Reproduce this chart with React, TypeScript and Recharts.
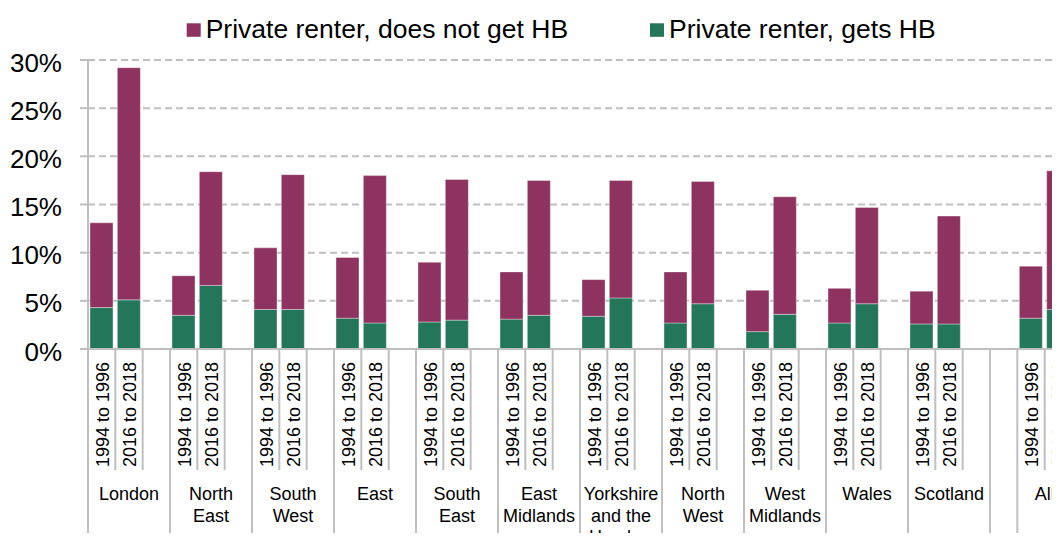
import React from "react";
import { BarChart, Bar, XAxis, YAxis, CartesianGrid, Legend } from "recharts";

// ---------- data ----------
const regions = [
  "London", "North East", "South West", "East", "South East", "East Midlands",
  "Yorkshire and the Humber", "North West", "West Midlands", "Wales", "Scotland", "", "All",
];
const regionLabelLines: string[][] = [
  ["London"], ["North", "East"], ["South", "West"], ["East"], ["South", "East"], ["East", "Midlands"],
  ["Yorkshire", "and the", "Humber"], ["North", "West"], ["West", "Midlands"], ["Wales"], ["Scotland"], [], ["All"],
];
const periods = ["1994 to 1996", "2016 to 2018"];
const hbEarly = [4.3, 3.5, 4.1, 3.2, 2.8, 3.1, 3.4, 2.7, 1.8, 2.7, 2.6, null, 3.2];
const hbLate = [5.1, 6.6, 4.1, 2.7, 3.0, 3.5, 5.3, 4.7, 3.6, 4.7, 2.6, null, 4.1];
const nonHbEarly = [8.8, 4.1, 6.4, 6.3, 6.2, 4.9, 3.8, 5.3, 4.3, 3.6, 3.4, null, 5.4];
const nonHbLate = [24.1, 11.8, 14.0, 15.3, 14.6, 14.0, 12.2, 12.7, 12.2, 10.0, 11.2, null, 14.4];
const yTicks = [0, 5, 10, 15, 20, 25, 30];

const NON_NAME = "Private renter, does not get HB";
const HB_NAME = "Private renter, gets HB";
const PURPLE = "#8E3360";
const GREEN = "#24765A";
const GREY = "#BFBFBF";
const FONT = "'Liberation Sans', Arial, Helvetica, sans-serif";

// ---------- build slot rows ----------
type Row = {
  key: string; period: string; hb: number | null; nonHb: number | null;
  regionStart: boolean; regionSlots: number; labelLines: string[];
};
const rows: Row[] = [];
regions.forEach((name, ri) => {
  const isLast = ri === regions.length - 1;
  const startIdx = rows.length;
  if (name === "") {
    rows.push({ key: `s${rows.length}`, period: "", hb: null, nonHb: null, regionStart: true, regionSlots: 1, labelLines: [] });
    return;
  }
  rows.push({ key: `s${rows.length}`, period: periods[0], hb: hbEarly[ri], nonHb: nonHbEarly[ri], regionStart: true, regionSlots: 0, labelLines: regionLabelLines[ri] });
  rows.push({ key: `s${rows.length}`, period: periods[1], hb: hbLate[ri], nonHb: nonHbLate[ri], regionStart: false, regionSlots: 0, labelLines: [] });
  if (!isLast) rows.push({ key: `s${rows.length}`, period: "", hb: null, nonHb: null, regionStart: false, regionSlots: 0, labelLines: [] });
  rows[startIdx].regionSlots = rows.length - startIdx;
});

// ---------- layout ----------
const CHART_W = 1080;
const CHART_H = 533;
const MARGIN = { top: 52, right: 16, bottom: 0, left: 0 };
const Y_AXIS_W = 80;
const X_AXIS_H = 192;
const PLOT_W = CHART_W - MARGIN.left - MARGIN.right - Y_AXIS_W;
const BAND = PLOT_W / rows.length;

function SlotTick(props: any) {
  const { x, y } = props;
  const i: number = props.index ?? props.payload?.index ?? 0;
  const row = rows[i];
  if (!row) return null;
  const left = x - BAND / 2;
  return (
    <g>
      <line x1={left} x2={left} y1={y} y2={y + (row.regionStart ? X_AXIS_H : 121)} stroke={GREY} strokeWidth={2} />
      {i === rows.length - 1 && (
        <line x1={x + BAND / 2} x2={x + BAND / 2} y1={y} y2={y + X_AXIS_H} stroke={GREY} strokeWidth={2} />
      )}
      {row.period && (
        <text
          transform={`translate(${x + 0.5},${y + 13}) rotate(-90)`}
          textAnchor="end"
          dy="0.36em"
          fontSize={18}
          fontFamily={FONT}
          fill="#000"
        >
          {row.period}
        </text>
      )}
      {row.regionStart &&
        row.labelLines.map((ln, k) => (
          <text
            key={k}
            x={left + (row.regionSlots * BAND) / 2}
            y={y + 151 + k * 21.7}
            textAnchor="middle"
            fontSize={18}
            fontFamily={FONT}
            fill="#000"
          >
            {ln}
          </text>
        ))}
    </g>
  );
}

function YTick(props: any) {
  const { x, y, payload } = props;
  return (
    <text x={x} y={y + 11.5} textAnchor="end" fontSize={26} fontFamily={FONT} fill="#000">
      {`${payload.value}%`}
    </text>
  );
}

const legendItems = [
  { name: NON_NAME, color: PURPLE, x: 178.7 },
  { name: HB_NAME, color: GREEN, x: 642 },
];

function LegendContent() {
  return (
    <svg width={1052} height={45} style={{ display: "block" }}>
      {legendItems.map((it) => (
        <g key={it.name}>
          <rect x={it.x} y={15.3} width={14} height={13.5} fill={it.color} />
          <text x={it.x + 19} y={30.3} fontSize={26.5} fontFamily={FONT} fill="#000">
            {it.name}
          </text>
        </g>
      ))}
    </svg>
  );
}

export default function App() {
  return (
    <div style={{ width: 1052, height: 533, marginBottom: -8, overflow: "hidden", position: "relative" }}>
      <BarChart width={CHART_W} height={CHART_H} data={rows} margin={MARGIN} barSize={23}>
        <CartesianGrid
          horizontal
          vertical={false}
          stroke={GREY}
          strokeWidth={2}
          strokeDasharray="7 4"
        />
        <XAxis
          dataKey="key"
          interval={0}
          height={X_AXIS_H}
          tickSize={0}
          tickMargin={0}
          tickLine={false}
          axisLine={{ stroke: GREY, strokeWidth: 2 }}
          tick={<SlotTick />}
        />
        <YAxis
          width={Y_AXIS_W}
          domain={[0, 30]}
          ticks={yTicks}
          interval={0}
          allowDataOverflow
          tickSize={8}
          tickMargin={18}
          tickLine={{ stroke: GREY, strokeWidth: 2 }}
          axisLine={{ stroke: GREY, strokeWidth: 2 }}
          tick={<YTick />}
        />
        <Legend
          layout="horizontal"
          verticalAlign="middle"
          align="center"
          wrapperStyle={{ top: 0, left: 0, width: 1052, height: 45 }}
          content={<LegendContent />}
        />
        <Bar dataKey="hb" name={HB_NAME} stackId="a" fill={GREEN} stroke="rgba(255,255,255,0.45)" strokeWidth={0.8} isAnimationActive={false} />
        <Bar dataKey="nonHb" name={NON_NAME} stackId="a" fill={PURPLE} stroke="rgba(255,255,255,0.45)" strokeWidth={0.8} isAnimationActive={false} />
      </BarChart>
    </div>
  );
}
